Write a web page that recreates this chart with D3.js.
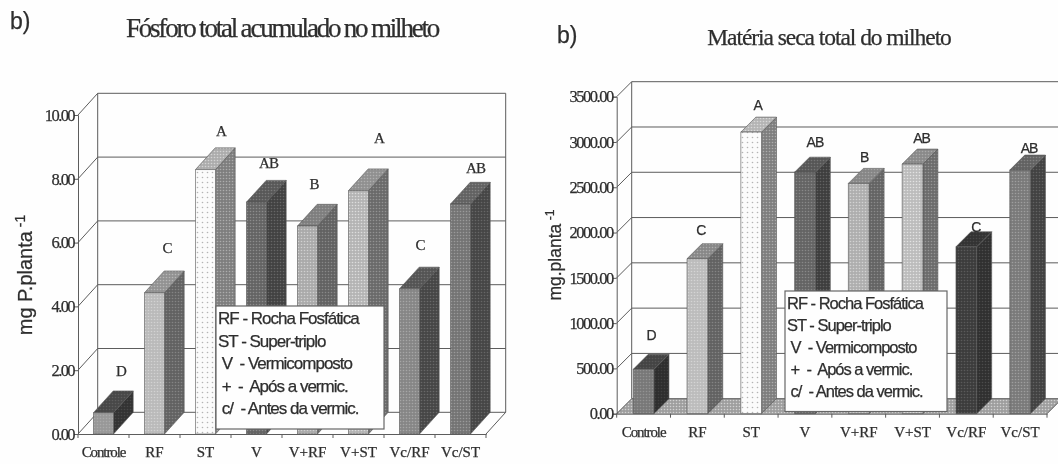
<!DOCTYPE html>
<html>
<head>
<meta charset="utf-8">
<script src="https://cdn.jsdelivr.net/npm/d3@7"></script>
<style>
    html, body { margin: 0; padding: 0; background: #fefefe; overflow: hidden; }
    svg { display: block; filter: blur(0.45px); }
    text { fill: #2e2e2e; stroke: #2e2e2e; stroke-width: 0.25px; white-space: pre; }
    .serif { font-family: "Liberation Serif", serif; }
    .sans { font-family: "Liberation Sans", sans-serif; }
</style>
</head>
<body>
<div id="chart"></div>
<script>
// Values
const categories = ["Controle", "RF", "ST", "V", "V+RF", "V+ST", "Vc/RF", "Vc/ST"];

const phosphorus = [0.67, 4.43, 8.29, 7.27, 6.52, 7.63, 4.55, 7.21];
const phosphorusLetters = ["D", "C", "A", "AB", "B", "A", "C", "AB"];
const phosphorusLetterLevels = [1.97, 5.83, 9.5, 8.5, 7.84, 9.28, 5.92, 8.34];
const phosphorusTicks = [0, 2, 4, 6, 8, 10];

const dryMatter = [490, 1711, 3109, 2667, 2543, 2756, 1843, 2690];
const dryMatterLetters = ["D", "C", "A", "AB", "B", "AB", "C", "AB"];
const dryMatterLetterLevels = [865, 2028, 3411, 2999, 2837, 3040, 2064, 2929];
const dryMatterTicks = [0, 500, 1000, 1500, 2000, 2500, 3000, 3500];

const legendLines = [
    "RF - Rocha Fosfática",
    "ST - Super-triplo",
    " V  - Vermicomposto",
    " +  -  Após a vermic.",
    " c/  - Antes da vermic."
];

const width = 1058;
const height = 464;

const svg = d3.select("#chart")
    .append("svg")
    .attr("width", width)
    .attr("height", height);

svg.append("rect")
    .attr("width", width)
    .attr("height", height)
    .attr("fill", "#fefefe");

const defs = svg.append("defs");
let patternCount = 0;

// Stippled fill: base colour with a regular grid of lighter dots
const stipple = (base, dot, size = 3, r = 0.8) => {
    const id = `stipple-${patternCount++}`;
    const pattern = defs.append("pattern")
        .attr("id", id)
        .attr("patternUnits", "userSpaceOnUse")
        .attr("width", size)
        .attr("height", size);
    pattern.append("rect")
        .attr("width", size)
        .attr("height", size)
        .attr("fill", base);
    pattern.append("circle")
        .attr("cx", size / 2)
        .attr("cy", size / 2)
        .attr("r", r)
        .attr("fill", dot);
    return `url(#${id})`;
};

// Draw one pseudo-3D bar chart
const renderChart = (config) => {
    const chart = svg.append("g");
    const { x0, x1, y0, y1, depthX, depthY } = config;

    const x = d3.scaleBand()
        .domain(categories)
        .range([x0, x1])
        .paddingInner(config.barPadding)
        .paddingOuter(config.barPadding / 2);
    const y = d3.scaleLinear()
        .domain(config.domain)
        .range([y0, y1]);
    const step = x.step();

    const poly = (points, fill) => chart.append("polygon")
        .attr("points", points.map(p => p.join(",")).join(" "))
        .attr("fill", fill)
        .attr("stroke", "#555")
        .attr("stroke-width", 0.6);

    const line = (a, b, color = "#5c5c5c", w = 1) => chart.append("line")
        .attr("x1", a[0]).attr("y1", a[1])
        .attr("x2", b[0]).attr("y2", b[1])
        .attr("stroke", color)
        .attr("stroke-width", w);

    // Floor
    chart.append("polygon")
        .attr("points", [[x0, y0], [x0 + depthX, y0 - depthY], [x1 + depthX, y0 - depthY], [x1, y0]].map(p => p.join(",")).join(" "))
        .attr("fill", config.floorFill);

    // Back wall, side wall and gridlines
    config.ticks.forEach(t => {
        line([x0, y(t)], [x0 + depthX, y(t) - depthY]);
        line([x0 + depthX, y(t) - depthY], [x1 + depthX, y(t) - depthY]);
    });
    line([x0 + depthX, y0 - depthY], [x0 + depthX, y1 - depthY]);
    line([x1 + depthX, y0 - depthY], [x1 + depthX, y1 - depthY]);
    line([x1, y0], [x1 + depthX, y0 - depthY]);

    // Bars
    categories.forEach((c, i) => {
        const left = x(c);
        const right = left + x.bandwidth();
        const top = y(config.values[i]);
        const faces = config.faces[i];

        poly([[right, y0], [right + depthX, y0 - depthY], [right + depthX, top - depthY], [right, top]], faces[1]);
        poly([[left, top], [right, top], [right + depthX, top - depthY], [left + depthX, top - depthY]], faces[2]);
        poly([[left, y0], [right, y0], [right, top], [left, top]], faces[0]);
    });

    // Value axis
    chart.append("g")
        .attr("transform", `translate(${x0},0)`)
        .attr("class", "serif")
        .call(d3.axisLeft(y)
            .tickValues(config.ticks)
            .tickFormat(d3.format(".2f"))
            .tickSize(4)
            .tickPadding(0))
        .call(g => g.selectAll("path, line").attr("stroke", "#5c5c5c"))
        .call(g => g.selectAll("text")
            .attr("font-size", 16.5)
            .attr("letter-spacing", config.tickSpacing));

    // Category axis, ticks sit between the bars
    chart.append("g")
        .attr("transform", `translate(0,${y0})`)
        .attr("class", "serif")
        .call(d3.axisBottom(x).tickSize(0).tickPadding(config.catPadding))
        .call(g => g.select("path").attr("stroke", "#5c5c5c"))
        .call(g => g.selectAll("text")
            .attr("font-size", 15))
        .call(g => g.selectAll("text")
            .filter(d => d === "Controle")
            .attr("letter-spacing", -1.1));
    d3.range(categories.length + 1).forEach(i => {
        line([x0 + i * step, y0], [x0 + i * step, y0 + 4]);
    });

    // Significance letters
    config.letters.forEach((letter, i) => {
        chart.append("text")
            .attr("class", config.letterClass)
            .attr("x", x(categories[i]) + x.bandwidth() / 2 + config.letterDx[i])
            .attr("y", y(config.letterLevels[i]))
            .attr("dy", "0.35em")
            .attr("text-anchor", "middle")
            .attr("font-size", config.letterSize)
            .attr("letter-spacing", letter.length > 1 ? -1 : 0)
            .text(letter);
    });

    // Title and panel tag
    chart.append("text")
        .attr("class", "serif")
        .attr("x", config.titleX)
        .attr("y", config.titleY)
        .attr("text-anchor", "middle")
        .attr("font-size", config.titleSize)
        .attr("letter-spacing", config.titleSpacing)
        .text(config.title);
    chart.append("text")
        .attr("class", "sans")
        .attr("x", config.tagX)
        .attr("y", config.tagY)
        .attr("font-size", 23)
        .text("b)");

    // Rotated unit label
    const unit = chart.append("text")
        .attr("class", "sans")
        .attr("transform", `translate(${config.unitX},${config.unitY}) rotate(-90)`)
        .attr("text-anchor", "middle")
        .attr("font-size", config.unitSize)
        .text(config.unit);
    unit.append("tspan")
        .attr("dy", -7)
        .attr("font-size", config.unitSize * 0.7)
        .text(" -1");

    // Legend box
    const legend = chart.append("g");
    legend.append("rect")
        .attr("x", config.legend.x)
        .attr("y", config.legend.y)
        .attr("width", config.legend.w)
        .attr("height", config.legend.h)
        .attr("fill", "#fefefe")
        .attr("stroke", "#666")
        .attr("stroke-width", 1.2);
    legendLines.forEach((t, i) => {
        legend.append("text")
            .attr("class", "sans")
            .attr("x", config.legend.x + 2)
            .attr("y", config.legend.firstLine + i * config.legend.lineStep)
            .attr("dy", "0.35em")
            .attr("font-size", config.legend.size)
            .attr("letter-spacing", -1)
            .text(t);
    });
};

// Front, side and top face of each bar
const phosphorusFaces = [
    [stipple("#989898", "#aaa"), stipple("#333", "#484848"), stipple("#484848", "#5e5e5e")],
    [stipple("#bababa", "#d2d2d2"), stipple("#626262", "#848484"), stipple("#929292", "#b6b6b6")],
    [stipple("#fbfbfb", "#b4b4b4", 5, 0.8), stipple("#7e7e7e", "#acacac"), stipple("#acacac", "#d4d4d4")],
    [stipple("#646464", "#8c8c8c"), stipple("#424242", "#666"), stipple("#585858", "#7a7a7a")],
    [stipple("#aaa", "#d0d0d0"), stipple("#626262", "#888"), stipple("#7e7e7e", "#9c9c9c")],
    [stipple("#b4b4b4", "#dcdcdc"), stipple("#6a6a6a", "#929292"), stipple("#909090", "#b0b0b0")],
    [stipple("#868686", "#a6a6a6"), stipple("#464646", "#686868"), stipple("#545454", "#747474")],
    [stipple("#747474", "#9a9a9a"), stipple("#464646", "#666"), stipple("#626262", "#848484")]
];
const dryMatterFaces = [
    [stipple("#787878", "#929292"), stipple("#2e2e2e", "#404040"), stipple("#444", "#585858")],
    [stipple("#bcbcbc", "#d4d4d4"), stipple("#626262", "#848484"), stipple("#888", "#aeaeae")],
    [stipple("#fbfbfb", "#b4b4b4", 5, 0.8), stipple("#7e7e7e", "#acacac"), stipple("#b4b4b4", "#d8d8d8")],
    [stipple("#646464", "#888"), stipple("#3e3e3e", "#626262"), stipple("#565656", "#767676")],
    [stipple("#aeaeae", "#d2d2d2"), stipple("#646464", "#8a8a8a"), stipple("#868686", "#a4a4a4")],
    [stipple("#bcbcbc", "#e2e2e2"), stipple("#6c6c6c", "#949494"), stipple("#8a8a8a", "#aaa")],
    [stipple("#3c3c3c", "#5a5a5a"), stipple("#303030", "#4c4c4c"), stipple("#333", "#484848")],
    [stipple("#7a7a7a", "#9e9e9e"), stipple("#424242", "#626262"), stipple("#626262", "#848484")]
];

renderChart({
    x0: 78, x1: 486, y0: 434, y1: 115, depthX: 19.7, depthY: 21.7,
    domain: [0, 10], ticks: phosphorusTicks, values: phosphorus,
    barPadding: 0.608, faces: phosphorusFaces, floorFill: "#fefefe",
    tickSpacing: -1.6, catPadding: 12,
    letters: phosphorusLetters, letterLevels: phosphorusLetterLevels,
    letterDx: [18, 13, 16, 12, 7, 21, 11, 15], letterClass: "serif", letterSize: 15,
    title: "Fósforo total acumulado no milheto", titleX: 282, titleY: 37, titleSize: 27, titleSpacing: -2.2,
    tagX: 10, tagY: 29,
    unit: "mg P.planta", unitX: 32, unitY: 275, unitSize: 20,
    legend: { x: 216, y: 306, w: 168, h: 123, firstLine: 318, lineStep: 22.6, size: 17 }
});

renderChart({
    x0: 616.7, x1: 1047, y0: 413.7, y1: 96.7, depthX: 15, depthY: 15,
    domain: [0, 3500], ticks: dryMatterTicks, values: dryMatter,
    barPadding: 0.615, faces: dryMatterFaces, floorFill: stipple("#9e9e9e", "#d2d2d2"),
    tickSpacing: -1.5, catPadding: 13,
    letters: dryMatterLetters, letterLevels: dryMatterLetterLevels,
    letterDx: [8, 4, 7, 10, 6, 9, 10, 9], letterClass: "sans", letterSize: 14,
    title: "Matéria seca total do milheto", titleX: 829, titleY: 45, titleSize: 23.5, titleSpacing: -1.05,
    tagX: 557, tagY: 43,
    unit: "mg.planta", unitX: 561, unitY: 255, unitSize: 17.5,
    legend: { x: 785, y: 291, w: 162, h: 120.5, firstLine: 303, lineStep: 22, size: 16.5 }
});
</script>
</body>
</html>
